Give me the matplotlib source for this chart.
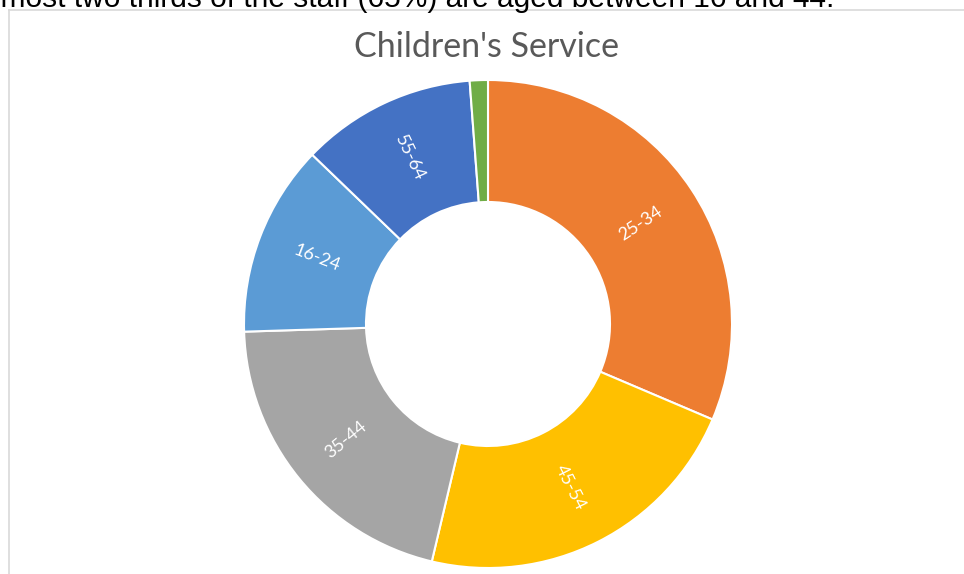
"""
Children's Service staff age profile - donut chart
"""

import numpy as np
import matplotlib
matplotlib.use('Agg')
import matplotlib.pyplot as plt
from matplotlib.lines import Line2D

# age bands, clockwise from 12 o'clock
age_bands = ['25-34', '45-54', '35-44', '16-24', '55-64', '65+']
staff_share = [31.4, 22.3, 20.8, 12.7, 11.6, 1.2]
show_label = [True, True, True, True, True, False]
band_colors = ['#ED7D31', '#FFC000', '#A5A5A5', '#5B9BD5', '#4472C4', '#70AD47']

title = "Children's Service"
intro = "Almost two thirds of the staff (65%) are aged between 16 and 44."

W, H = 964, 574
fig = plt.figure(figsize=(W / 100, H / 100), dpi=100, facecolor='white')

# chart area border (only top and left visible in the screenshot)
fig.add_artist(Line2D([8.5 / W, 8.5 / W], [0, 1 - 9.5 / H], color='#D9D9D9', lw=1.2))
fig.add_artist(Line2D([8.5 / W, 1], [1 - 9.5 / H, 1 - 9.5 / H], color='#D9D9D9', lw=1.2))

# body text cut off at the top edge; shift it left so "Al" is off canvas
intro_size = 21.5
t = fig.text(0, 1 - 7 / H, intro, fontsize=intro_size, family='Liberation Sans',
             color='black', va='baseline', ha='left')
renderer = fig.canvas.get_renderer()
tmp = fig.text(0, 0, 'Al', fontsize=intro_size, family='Liberation Sans')
off = tmp.get_window_extent(renderer).width
tmp.remove()
t.set_x(-(off - 1) / W)

fig.text(487 / W, 1 - 47 / H, title, fontsize=24.5, family='Lato',
         color='#595959', ha='center', va='center')

# donut: centre (488, 324) px, outer radius 244 px
cx, cy, r = 488, 324, 244
ax = fig.add_axes([(cx - r) / W, (H - cy - r) / H, 2 * r / W, 2 * r / H])
wedges, _ = ax.pie(staff_share, colors=band_colors, startangle=90, counterclock=False,
                   radius=1, wedgeprops=dict(width=0.5, edgecolor='white', linewidth=1.5))
ax.set_xlim(-1, 1)
ax.set_ylim(-1, 1)
ax.set_aspect('equal')
ax.axis('off')

for w, lab, show in zip(wedges, age_bands, show_label):
    if not show:
        continue
    mid = np.deg2rad((w.theta1 + w.theta2) / 2)
    x, y = 0.75 * np.cos(mid), 0.75 * np.sin(mid)
    rot = np.rad2deg(mid)
    rot = (rot + 180) % 360 - 180
    if rot > 90:
        rot -= 180
    elif rot < -90:
        rot += 180
    ax.text(x, y, lab, rotation=rot, rotation_mode='anchor', ha='center', va='center',
            color='white', fontsize=13, family='Lato')

plt.savefig('out.png', dpi=100, facecolor='white')
